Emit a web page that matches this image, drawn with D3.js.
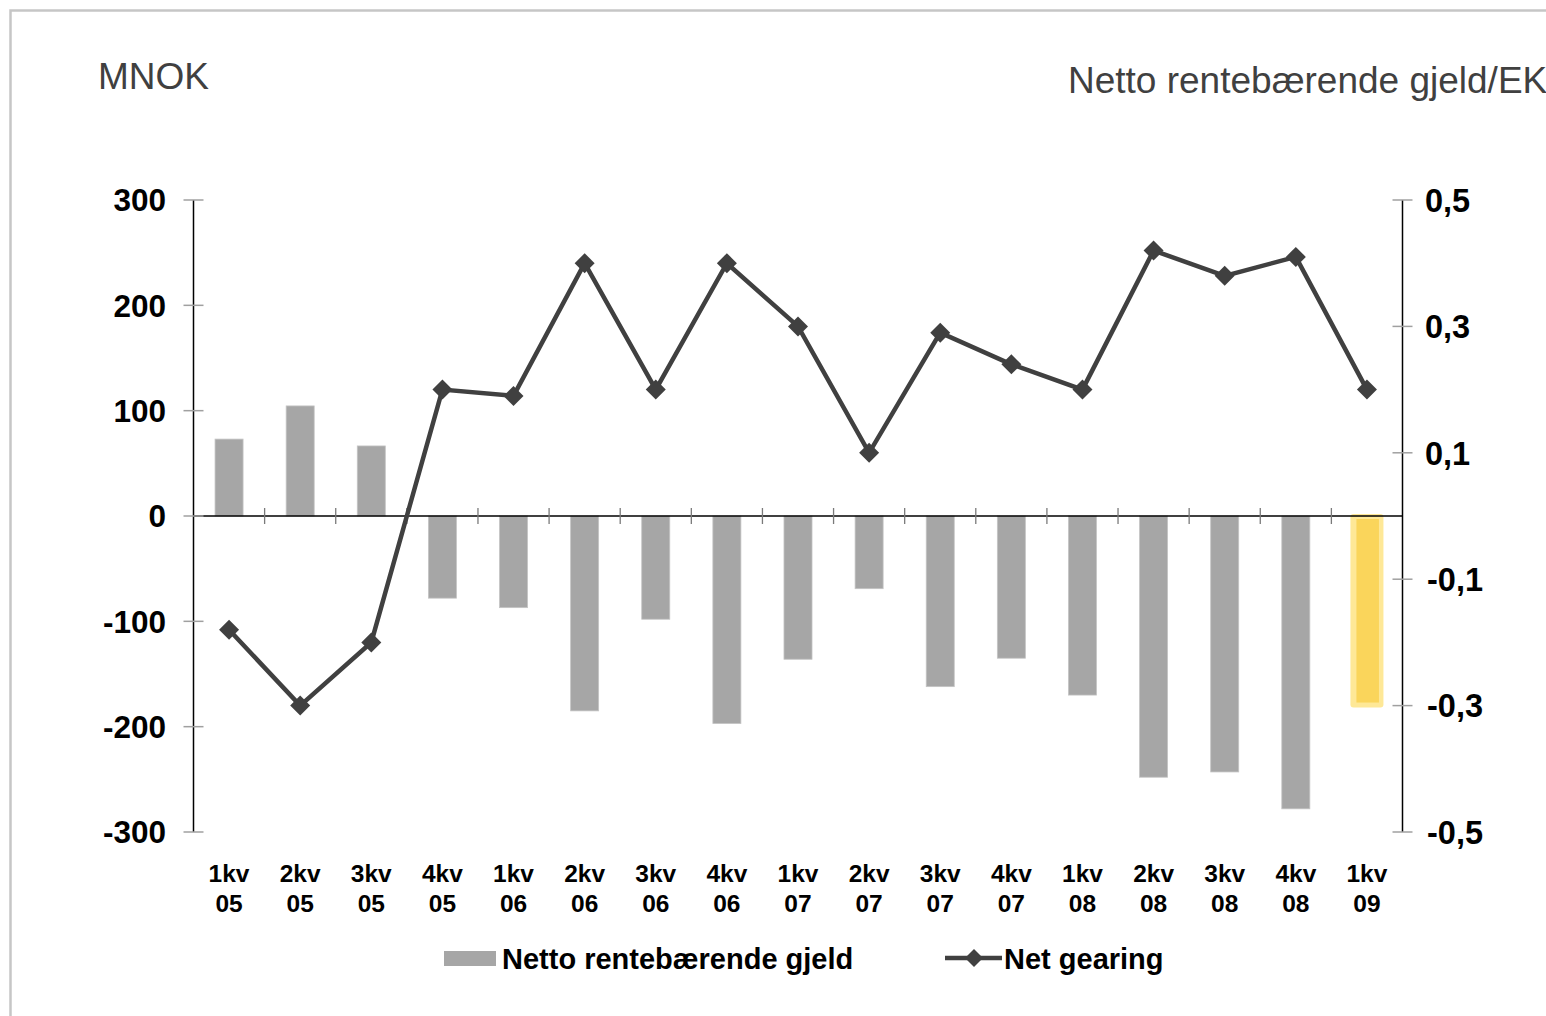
<!DOCTYPE html>
<html>
<head>
<meta charset="utf-8">
<script src="https://cdn.jsdelivr.net/npm/d3@7"></script>
<style>
  html, body { margin: 0; padding: 0; background: #fff; }
  svg { display: block; }
</style>
</head>
<body>
<svg id="chart" width="1546" height="1016"></svg>
<script>
// ---- data ----
const quarters = ["1kv","2kv","3kv","4kv","1kv","2kv","3kv","4kv","1kv","2kv","3kv","4kv","1kv","2kv","3kv","4kv","1kv"];
const years    = ["05","05","05","05","06","06","06","06","07","07","07","07","08","08","08","08","09"];
const debtValues    = [73, 104.5, 66.5, -78, -87, -185, -98, -197, -136, -69, -162, -135, -170, -248, -243, -278, -179];
const gearingValues = [-0.18, -0.30, -0.20, 0.20, 0.19, 0.40, 0.20, 0.40, 0.30, 0.10, 0.29, 0.24, 0.20, 0.42, 0.38, 0.41, 0.20];
const leftTicks  = [300, 200, 100, 0, -100, -200, -300];
const rightTicks = [0.5, 0.3, 0.1, -0.1, -0.3, -0.5];
const seriesNames = ["Netto rentebærende gjeld", "Net gearing"];
const leftTitle  = "MNOK";
const rightTitle = "Netto rentebærende gjeld/EK";

// ---- setup ----
const svg = d3.select("#chart");
const categories = quarters.map((q, i) => q + " " + years[i]);
const pLeft = 193.5, pRight = 1402.5, pTop = 200, pBottom = 832;
const barColor = "#a6a6a6", lineColor = "#404040";
const font = "'Liberation Sans', Arial, sans-serif";

const x = d3.scaleBand().domain(categories).range([pLeft, pRight]).paddingInner(0.606).paddingOuter(0.303);
const yL = d3.scaleLinear().domain([-300, 300]).range([pBottom, pTop]);
const yR = d3.scaleLinear().domain([-0.5, 0.5]).range([pBottom, pTop]);
const loc = d3.formatLocale({decimal: ",", thousands: " ", grouping: [3], currency: ["", ""], minus: "-"});
const fmtR = loc.format(".1f");
const cx = d => x(d) + x.bandwidth() / 2;

// outer frame
svg.append("rect").attr("x", 10.5).attr("y", 10.5).attr("width", 1600).attr("height", 1100)
  .attr("fill", "none").attr("stroke", "#c6c6c6").attr("stroke-width", 2.5);

// titles
svg.append("text").attr("x", 98).attr("y", 89).text(leftTitle)
  .attr("font-family", font).attr("font-size", 37).attr("fill", "#404040");
svg.append("text").attr("x", 1068).attr("y", 93).text(rightTitle)
  .attr("font-family", font).attr("font-size", 37).attr("fill", "#404040");

// bars
const lastIdx = categories.length - 1;
svg.append("g").selectAll("rect").data(categories.slice(0, lastIdx)).join("rect")
  .attr("x", d => x(d))
  .attr("width", x.bandwidth())
  .attr("y", (d, i) => yL(Math.max(0, debtValues[i])))
  .attr("height", (d, i) => Math.abs(yL(debtValues[i]) - yL(0)))
  .attr("fill", barColor).attr("stroke", "#c4c4c4").attr("stroke-width", 0.8);

// highlighted last bar
{
  const d = categories[lastIdx], v = debtValues[lastIdx];
  const y0 = yL(0), y1 = yL(v);
  svg.append("rect").attr("x", x(d) - 2.5).attr("width", x.bandwidth() + 5)
    .attr("y", y0 - 2).attr("height", y1 - y0 + 5).attr("rx", 3)
    .attr("fill", "#fee897");
  svg.append("rect").attr("x", x(d) + 3.5).attr("width", x.bandwidth() - 5.5)
    .attr("y", y0 + 3).attr("height", y1 - y0 - 5)
    .attr("fill", "#fad55b");
}

// zero line
svg.append("line").attr("x1", pLeft).attr("x2", pRight).attr("y1", yL(0)).attr("y2", yL(0))
  .attr("stroke", "#000").attr("stroke-width", 1.6);
// category boundary ticks
const step = x.step();
const bounds = d3.range(categories.length + 1).map(k => x(categories[0]) - x.paddingInner() * step / 2 + k * step);
svg.append("g").selectAll("line").data(bounds.slice(1, -1)).join("line")
  .attr("x1", d => d).attr("x2", d => d).attr("y1", yL(0) - 8).attr("y2", yL(0) + 8)
  .attr("stroke", "#7a7a7a").attr("stroke-width", 1.3);

// left axis
svg.append("line").attr("x1", pLeft).attr("x2", pLeft).attr("y1", pTop).attr("y2", pBottom)
  .attr("stroke", "#000").attr("stroke-width", 1.5);
svg.append("g").selectAll("line").data(leftTicks).join("line")
  .attr("x1", pLeft - 10).attr("x2", pLeft + 10).attr("y1", d => yL(d)).attr("y2", d => yL(d))
  .attr("stroke", "#a0a0a0").attr("stroke-width", 1.5);
svg.append("g").selectAll("text").data(leftTicks).join("text")
  .attr("x", 166).attr("y", d => yL(d)).attr("dy", "0.36em").attr("text-anchor", "end")
  .attr("font-family", font).attr("font-weight", "bold").attr("font-size", 31.5).attr("fill", "#000")
  .text(d => loc.format("d")(d));

// right axis
svg.append("line").attr("x1", pRight).attr("x2", pRight).attr("y1", pTop).attr("y2", pBottom)
  .attr("stroke", "#000").attr("stroke-width", 1.5);
svg.append("g").selectAll("line").data(rightTicks).join("line")
  .attr("x1", pRight - 10).attr("x2", pRight + 10).attr("y1", d => yR(d)).attr("y2", d => yR(d))
  .attr("stroke", "#a0a0a0").attr("stroke-width", 1.5);
svg.append("g").selectAll("text").data(rightTicks).join("text")
  .attr("x", d => d < 0 ? 1427 : 1425).attr("y", d => yR(d)).attr("dy", "0.36em").attr("text-anchor", "start")
  .attr("font-family", font).attr("font-weight", "bold").attr("font-size", 32.5).attr("fill", "#000")
  .text(d => fmtR(d));

// category labels
const cl = svg.append("g").selectAll("text").data(categories).join("text")
  .attr("text-anchor", "middle").attr("font-family", font).attr("font-weight", "bold")
  .attr("font-size", 24.5).attr("fill", "#000");
cl.append("tspan").attr("x", d => cx(d)).attr("y", 882).text((d, i) => quarters[i]);
cl.append("tspan").attr("x", d => cx(d)).attr("y", 912).text((d, i) => years[i]);

// line
const line = d3.line().x((d, i) => cx(categories[i])).y(d => yR(d));
svg.append("path").datum(gearingValues).attr("d", line)
  .attr("fill", "none").attr("stroke", lineColor).attr("stroke-width", 4.5).attr("stroke-linejoin", "miter");
const diamond = (cxp, cyp, r) => `M${cxp},${cyp - r}L${cxp + r},${cyp}L${cxp},${cyp + r}L${cxp - r},${cyp}Z`;
svg.append("g").selectAll("path").data(gearingValues).join("path")
  .attr("d", (d, i) => diamond(cx(categories[i]), yR(d), 10))
  .attr("fill", lineColor);

// legend
const lg = svg.append("g");
lg.append("rect").attr("x", 444).attr("y", 951).attr("width", 52).attr("height", 15).attr("fill", barColor);
lg.append("text").attr("x", 502).attr("y", 969).text(seriesNames[0])
  .attr("font-family", font).attr("font-weight", "bold").attr("font-size", 29).attr("fill", "#000");
lg.append("line").attr("x1", 945).attr("x2", 1002).attr("y1", 958).attr("y2", 958)
  .attr("stroke", lineColor).attr("stroke-width", 4.5);
lg.append("path").attr("d", diamond(974, 958, 9)).attr("fill", lineColor);
lg.append("text").attr("x", 1004).attr("y", 969).text(seriesNames[1])
  .attr("font-family", font).attr("font-weight", "bold").attr("font-size", 29).attr("fill", "#000");
</script>
</body>
</html>
